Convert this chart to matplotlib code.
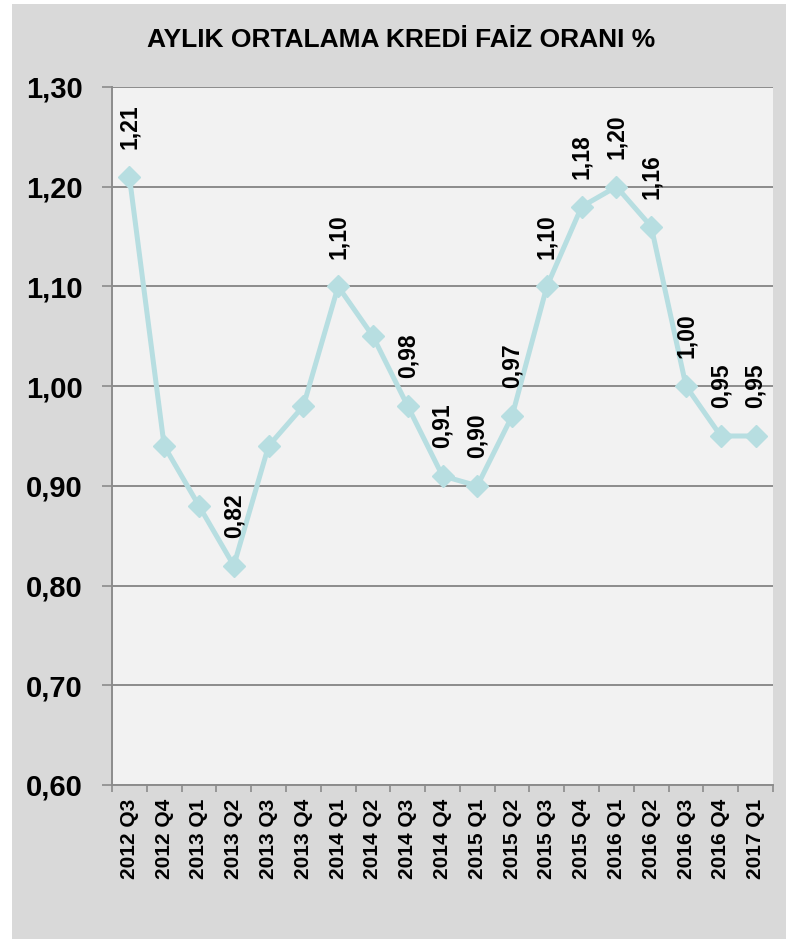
import matplotlib.pyplot as plt
from matplotlib.patches import Rectangle

quarters = ['2012 Q3', '2012 Q4', '2013 Q1', '2013 Q2', '2013 Q3', '2013 Q4',
            '2014 Q1', '2014 Q2', '2014 Q3', '2014 Q4', '2015 Q1', '2015 Q2',
            '2015 Q3', '2015 Q4', '2016 Q1', '2016 Q2', '2016 Q3', '2016 Q4',
            '2017 Q1']
rates = [1.21, 0.94, 0.88, 0.82, 0.94, 0.98, 1.10, 1.05, 0.98, 0.91, 0.90,
         0.97, 1.10, 1.18, 1.20, 1.16, 1.00, 0.95, 0.95]
# which points carry a data label in the original chart
labelled = [True, False, False, True, False, False, True, False, True, True,
            True, True, True, True, True, True, True, True, True]
yticks = [0.60, 0.70, 0.80, 0.90, 1.00, 1.10, 1.20, 1.30]

plt.rcParams['font.family'] = ['Liberation Sans', 'DejaVu Sans']

fig = plt.figure(figsize=(7.86, 9.39), dpi=100, facecolor='white')
fig.patches.append(Rectangle((12 / 786, 0), 1, 935 / 939, transform=fig.transFigure,
                             facecolor='#D9D9D9', edgecolor='none', zorder=-10))

ax = fig.add_axes([112 / 786, 1 - 785 / 939, 661 / 786, 698 / 939])
ax.set_facecolor('#F2F2F2')

x = list(range(len(quarters)))
ax.plot(x, rates, color='#B7DEE1', lw=3.6, marker='D', markersize=11,
        markeredgecolor='#B7DEE1', zorder=3)

for i, v in enumerate(rates):
    if labelled[i]:
        ax.annotate(f'{v:.2f}'.replace('.', ','), (i, v), xytext=(0, 20),
                    textcoords='offset points', ha='center', va='bottom',
                    rotation=90, fontsize=16.5, fontweight='bold', color='black')

ax.set_xlim(-0.5, len(quarters) - 0.5)
ax.set_ylim(0.60, 1.30)
ax.set_yticks(yticks)
ax.set_yticklabels([f'{t:.2f}'.replace('.', ',') for t in yticks],
                   fontsize=21, fontweight='bold')
ax.yaxis.grid(True, color='#8C8C8C', lw=1.4)
ax.set_axisbelow(True)

ax.set_xticks(x)
ax.set_xticklabels(quarters, rotation=90, fontsize=15, fontweight='bold')
ax.set_xticks([i - 0.5 for i in range(len(quarters) + 1)], minor=True)
ax.tick_params(axis='x', which='major', length=0, pad=10)
ax.tick_params(axis='x', which='minor', length=5, color='#8C8C8C', width=1.2)
ax.tick_params(axis='y', length=7, color='#8C8C8C', width=1.2, pad=14)

for side in ['top', 'right']:
    ax.spines[side].set_visible(False)
for side in ['left', 'bottom']:
    ax.spines[side].set_color('#8C8C8C')
    ax.spines[side].set_linewidth(1.4)

fig.text(401 / 786, 1 - 40 / 939, 'AYLIK ORTALAMA KREDİ FAİZ ORANI %',
         ha='center', va='center', fontsize=19, fontweight='bold')

fig.savefig('out.png', dpi=100, facecolor=fig.get_facecolor())
